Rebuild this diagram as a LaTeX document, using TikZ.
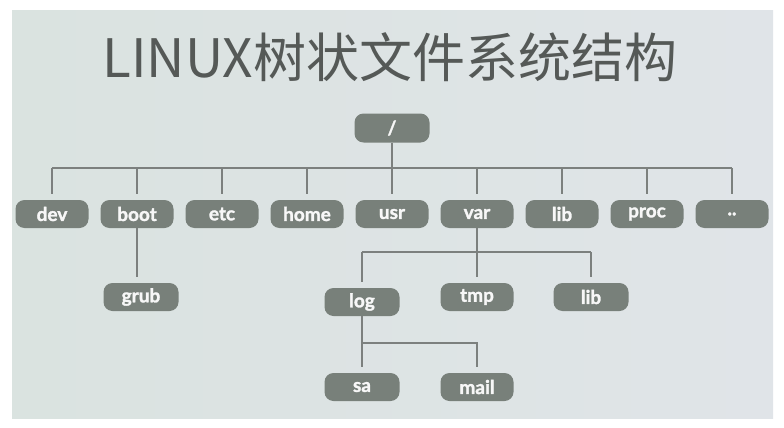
\documentclass[tikz,border=0pt]{standalone}
\usepackage{fontspec}
\setmainfont{Lato}[BoldFeatures={FakeBold=1.6}]
\newfontfamily\cjk{Noto Sans CJK SC}
\usetikzlibrary{positioning}

\definecolor{slideL}{HTML}{DAE3E0}
\definecolor{slideR}{HTML}{E0E4E8}
\definecolor{boxgray}{HTML}{78807A}
\definecolor{linegray}{HTML}{7C807E}
\definecolor{titlegray}{HTML}{555957}

\tikzset{
  dir/.style={fill=boxgray, rounded corners=9pt, minimum width=73pt,
    minimum height=28pt, inner sep=0pt, text=white!94!boxgray,
    font=\fontsize{19}{19}\selectfont\bfseries},
  link/.style={draw=linegray, line width=1.4pt},
  drop/.style={link, shorten >=6pt},
}

\begin{document}
\begin{tikzpicture}[x=1pt,y=-1pt]
  % page and slide
  \useasboundingbox (0,0) rectangle (784,428);
  \fill[white] (0,0) rectangle (784,428);
  \shade[left color=slideL, right color=slideR] (12,11) rectangle (773,418);
  % title
  \node[text=titlegray] (title) at (390,57)
    {\cjk\fontsize{53}{53}\selectfont LINUX树状文件系统结构};
  % root and first level
  \node[dir, minimum width=75pt, minimum height=29pt] (root) at (392,128) {/};
  \foreach \name/\txt [count=\i from 0] in
      {dev/dev,boot/boot,etc/etc,home/home,usr/usr,var/var,lib/lib,proc/proc,dots/..}
    \node[dir] (\name) at (52+85*\i,214) {\txt};
  % second and third level
  \node[dir, minimum width=75pt] (grub) at (141,297) {grub};
  \node[dir, minimum width=75pt] (log) at (362,302) {log};
  \node[dir] (tmp) at (477,297) {tmp};
  \node[dir, minimum width=75pt] (varlib) at (591,297) {lib};
  \node[dir, minimum width=75pt] (sa) at (362,387) {sa};
  \node[dir] (mail) at (477,387) {mail};
  % connectors
  \coordinate (bus) at (0,168);
  \coordinate (vbus) at (0,252);
  \coordinate (lbus) at (0,343);
  \draw[drop] (root) -- (usr);
  \draw[link] (dev.north |- bus) -- (dots.north |- bus);
  \foreach \name in {dev,boot,etc,home,var,lib,proc,dots}
    \draw[drop] (\name.north |- bus) -- (\name.north);
  \draw[drop] (boot.south) -- (boot.south |- grub.north);
  \draw[drop] (var.south) -- (tmp.north);
  \draw[link] (log.north |- vbus) -- (varlib.north |- vbus);
  \draw[drop] (log.north |- vbus) -- (log.north);
  \draw[drop] (varlib.north |- vbus) -- (varlib.north);
  \draw[drop] (log.south) -- (sa.north);
  \draw[drop] (log.south |- lbus) -| (mail.north);
\end{tikzpicture}
\end{document}
